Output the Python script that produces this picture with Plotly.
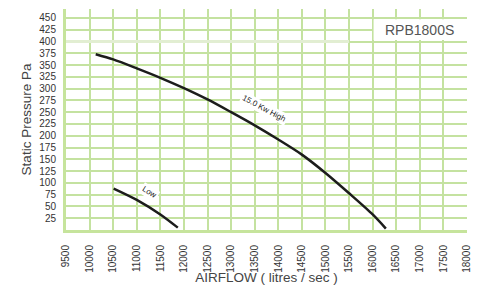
import plotly.graph_objects as go

# Data
high_x = [10130, 10500, 11000, 11500, 12000, 12500, 13000, 13500, 14000, 14500, 15000, 15500, 16000, 16280]
high_y = [373, 362, 343, 323, 301, 277, 250, 222, 192, 160, 121, 78, 33, 3]
low_x = [10510, 11000, 11500, 11870]
low_y = [88, 64, 33, 5]

x_ticks = list(range(9500, 18001, 500))
y_ticks = list(range(25, 451, 25))

GRID = "#c4e2a0"
AXIS = "#c6e49c"
FONT = "Liberation Sans, Arial, sans-serif"

fig = go.Figure()
fig.add_trace(go.Scatter(x=high_x, y=high_y, mode="lines",
                         line=dict(color="#1c1c1c", width=2.5, shape="spline", smoothing=0.8),
                         showlegend=False, hoverinfo="skip"))
fig.add_trace(go.Scatter(x=low_x, y=low_y, mode="lines",
                         line=dict(color="#1c1c1c", width=2.5, shape="spline", smoothing=0.8),
                         showlegend=False, hoverinfo="skip"))

fig.update_layout(
    width=484, height=285,
    margin=dict(l=66, r=17, t=9, b=55, autoexpand=False),
    paper_bgcolor="white", plot_bgcolor="white",
    font=dict(family=FONT, color="#333333"),
    xaxis=dict(range=[9500, 18000], tickvals=x_ticks, ticktext=[str(v) for v in x_ticks],
               tickangle=-90, tickfont=dict(size=10, color="#333333"),
               showgrid=True, gridcolor=GRID, gridwidth=2,
               showline=True, linecolor=AXIS, linewidth=3,
               zeroline=False, ticks="", ticklabelstandoff=8, automargin=False,
               title=dict(text="AIRFLOW ( litres / sec )", font=dict(size=13.5, color="#444444"), standoff=7)),
    yaxis=dict(range=[0, 469], tickvals=y_ticks, ticktext=[str(v) for v in y_ticks],
               tickfont=dict(size=10, color="#333333"),
               showgrid=True, gridcolor=GRID, gridwidth=2,
               showline=True, linecolor=AXIS, linewidth=3,
               zeroline=False, ticks="", ticklabelstandoff=5, automargin=False,
               title=dict(text="Static Pressure Pa", font=dict(size=13.5, color="#444444"), standoff=5)),
    shapes=[
        dict(type="line", xref="x", yref="y", x0=9500, x1=15500, y0=400, y1=400,
             line=dict(color="#e2eed2", width=3), layer="above"),
        dict(type="rect", xref="x", yref="y", x0=16020, x1=18000, y0=403, y1=447,
             fillcolor="white", line=dict(width=0), layer="above"),
    ],
    annotations=[
        dict(x=17000, y=425, xref="x", yref="y", text="RPB1800S", showarrow=False,
             font=dict(size=14, color="#555555", family=FONT)),
        dict(x=13695, y=257, xref="x", yref="y", text="15.0 Kw High", showarrow=False,
             textangle=28, bgcolor="white", font=dict(size=8, color="#222222", family=FONT)),
        dict(x=11280, y=80, xref="x", yref="y", text="Low", showarrow=False,
             textangle=32, bgcolor="white", font=dict(size=8, color="#222222", family=FONT)),
    ],
)

fig.write_html("out.html", config={"displayModeBar": False},
               post_script="document.body.style.margin='0';")
